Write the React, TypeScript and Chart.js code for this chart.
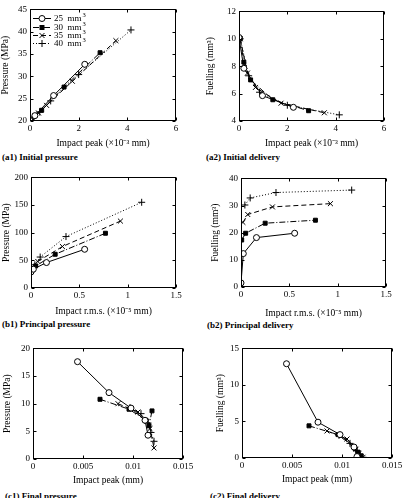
import React, { useEffect, useRef } from "react";
import { Chart, registerables } from "chart.js";

Chart.register(...registerables);

const SERIF = "'Liberation Serif', 'Times New Roman', serif";

// Fuel quantity of each series (mm³)
const seriesLabels = ["25", "30", "35", "40"];

// (a) Initial stage — impact peak (×10⁻³ mm)
const initPeak25 = [0, 0.2, 0.97, 2.25];
const initPeak30 = [0.05, 0.2, 0.48, 1.4, 2.88];
const initPeak35 = [0.05, 0.35, 0.68, 1.74, 3.53];
const initPeak40 = [0.05, 0.4, 0.85, 2.0, 4.15];
// initial pressure (MPa)
const initPres25 = [20.1, 21.2, 25.7, 32.7];
const initPres30 = [20.2, 21.2, 22.4, 27.6, 35.3];
const initPres35 = [20.2, 21.8, 23.5, 28.9, 38.0];
const initPres40 = [20.3, 22.0, 24.5, 30.4, 40.4];
// initial delivery (mm³)
const initFuel25 = [10.1, 7.85, 5.85, 5.0];
const initFuel30 = [10.0, 8.3, 7.0, 5.55, 4.75];
const initFuel35 = [10.0, 7.5, 6.45, 5.3, 4.6];
const initFuel40 = [10.0, 7.3, 6.1, 5.15, 4.45];

// (b) Principal stage — impact r.m.s. (×10⁻⁵ mm)
const prinRms25 = [0, 0.024, 0.16, 0.555];
const prinRms30 = [0.007, 0.048, 0.25, 0.77];
const prinRms35 = [0.02, 0.07, 0.325, 0.925];
const prinRms40 = [0.04, 0.095, 0.362, 1.145];
// principal pressure (MPa)
const prinPres25 = [29, 34, 46, 70];
const prinPres30 = [31, 40, 61, 99];
const prinPres35 = [36, 48, 75, 121];
const prinPres40 = [42, 56, 93, 155];
// principal delivery (mm³)
const prinFuel25 = [1.5, 12.3, 18.2, 19.8];
const prinFuel30 = [17.3, 19.8, 23.5, 24.6];
const prinFuel35 = [23.8, 26.7, 29.5, 30.7];
const prinFuel40 = [30.2, 32.8, 34.8, 35.7];

// (c) Final stage — impact peak (mm)
const finPeak25 = [0.00445, 0.0076, 0.0098, 0.0112, 0.0115];
const finPeak30 = [0.0067, 0.0096, 0.0113, 0.0116, 0.0119];
const finPeak35 = [0.0085, 0.0105, 0.0114, 0.0117, 0.0121];
const finPeak40 = [0.0097, 0.0108, 0.0115, 0.0118, 0.0121];
// final pressure (MPa)
const finPres25 = [17.6, 12.0, 9.2, 7.0, 4.3];
const finPres30 = [10.8, 9.0, 7.0, 6.0, 8.7];
const finPres35 = [10.0, 8.5, 6.8, 5.5, 2.0];
const finPres40 = [9.3, 8.2, 6.5, 4.8, 3.2];
// final delivery (mm³)
const finFuel25 = [12.9, 4.9, 3.2, 1.5, 0.2];
const finFuel30 = [4.4, 3.2, 1.3, 0.8, 0.3];
const finFuel35 = [3.7, 2.6, 1.2, 0.6, 0.1];
const finFuel40 = [3.1, 2.0, 1.0, 0.5, 0.1];

// Tick values
const initPeakTicks = [0, 2, 4, 6];
const initPresTicks = [20, 25, 30, 35, 40, 45];
const initFuelTicks = [4, 6, 8, 10, 12];
const prinRmsTicks = [0, 0.5, 1, 1.5];
const prinPresTicks = [0, 50, 100, 150, 200];
const prinFuelTicks = [0, 10, 20, 30, 40];
const finPeakTicks = [0, 0.005, 0.01, 0.015];
const finPresTicks = [0, 5, 10, 15, 20];
const finFuelTicks = [0, 5, 10, 15];

// Marker / line style of each series
const STYLES = [
  { pointStyle: "circle", radius: 3, fill: "#ffffff", dash: [] as number[] },
  { pointStyle: "rect", radius: 2.8, fill: "#000000", dash: [6, 2, 1, 2] },
  { pointStyle: "crossRot", radius: 3.5, fill: "#000000", dash: [5, 3] },
  { pointStyle: "cross", radius: 3.5, fill: "#000000", dash: [1, 2] },
];

type Series = { x: number[]; y: number[] };

type PanelProps = {
  box: [number, number, number, number]; // plot frame on the page: left, top, right, bottom
  yTitleX: number; // centre of rotated y title
  xTitleY: number; // centre of x title
  xTicks: number[];
  yTicks: number[];
  xTitle: string;
  yTitle: string;
  series: Series[];
  legend?: boolean;
};

const TICK_FONT = { family: SERIF, size: 9 };
const TITLE_FONT = { family: SERIF, size: 9.5 };

// Small marker glyph for the legend sample
function drawMarker(ctx: CanvasRenderingContext2D, style: string, r: number, fill: string, x: number, y: number) {
  ctx.beginPath();
  if (style === "circle") {
    ctx.arc(x, y, r, 0, Math.PI * 2);
    ctx.fillStyle = fill;
    ctx.fill();
    ctx.stroke();
  } else if (style === "rect") {
    const s = r * Math.SQRT1_2 * 2;
    ctx.fillStyle = fill;
    ctx.fillRect(x - s / 2, y - s / 2, s, s);
    ctx.strokeRect(x - s / 2, y - s / 2, s, s);
  } else if (style === "crossRot") {
    const d = r * Math.SQRT1_2;
    ctx.moveTo(x - d, y - d);
    ctx.lineTo(x + d, y + d);
    ctx.moveTo(x - d, y + d);
    ctx.lineTo(x + d, y - d);
    ctx.stroke();
  } else {
    ctx.moveTo(x - r, y);
    ctx.lineTo(x + r, y);
    ctx.moveTo(x, y - r);
    ctx.lineTo(x, y + r);
    ctx.stroke();
  }
}

// Frame around the plot with inward tick marks on all four sides
const framePlugin = {
  id: "frame",
  afterDatasetsDraw(chart: any) {
    const { ctx, chartArea } = chart;
    const { left, top, right, bottom } = chartArea;
    const xs = chart.scales.x;
    const ys = chart.scales.y;
    ctx.save();
    ctx.strokeStyle = "#000";
    ctx.lineWidth = 1;
    ctx.setLineDash([]);
    const L = Math.round(left) + 0.5;
    const T = Math.round(top) + 0.5;
    const R = Math.round(right) - 0.5;
    const B = Math.round(bottom) - 0.5;
    ctx.strokeRect(L, T, R - L, B - T);
    ctx.beginPath();
    const len = 3;
    xs.ticks.forEach((t: any) => {
      const p = Math.round(xs.getPixelForValue(t.value)) + 0.5;
      ctx.moveTo(p, B);
      ctx.lineTo(p, B - len);
      ctx.moveTo(p, T);
      ctx.lineTo(p, T + len);
    });
    ys.ticks.forEach((t: any) => {
      const p = Math.round(ys.getPixelForValue(t.value)) + 0.5;
      ctx.moveTo(L, p);
      ctx.lineTo(L + len, p);
      ctx.moveTo(R, p);
      ctx.lineTo(R - len, p);
    });
    ctx.stroke();
    ctx.restore();
  },
};

// Legend drawn inside the top-left corner of the plot: line sample with marker, then label
const insideLegendPlugin = {
  id: "insideLegend",
  afterDraw(chart: any) {
    const opts = chart.options.plugins.insideLegend;
    if (!opts || !opts.show) return;
    const { ctx, chartArea } = chart;
    const x0 = chartArea.left + 3;
    const y0 = chartArea.top + 9;
    const rowH = 8.3;
    ctx.save();
    chart.data.datasets.forEach((ds: any, i: number) => {
      const y = Math.round(y0 + i * rowH) + 0.5;
      const st = STYLES[i];
      ctx.strokeStyle = "#000";
      ctx.lineWidth = 1;
      ctx.setLineDash(st.dash);
      ctx.beginPath();
      ctx.moveTo(x0, y);
      ctx.lineTo(x0 + 18, y);
      ctx.stroke();
      ctx.setLineDash([]);
      drawMarker(ctx, st.pointStyle, st.radius, st.fill, x0 + 9, y);
      ctx.fillStyle = "#000";
      ctx.font = `9px ${SERIF}`;
      ctx.textBaseline = "middle";
      ctx.textAlign = "left";
      const label = `${ds.label}  mm`;
      ctx.fillText(label, x0 + 21, y + 0.5);
      const w = ctx.measureText(label).width;
      ctx.font = `6.5px ${SERIF}`;
      ctx.fillText("3", x0 + 22 + w, y - 3);
    });
    ctx.restore();
  },
};

function Panel(props: PanelProps) {
  const ref = useRef<HTMLCanvasElement | null>(null);
  const [l, t, r, b] = props.box;
  const cLeft = Math.round(props.yTitleX - 5.5);
  const cTop = t - 7;
  const padRight = 14;
  const cRight = r + padRight;
  const cBottom = Math.round(props.xTitleY + 5.5);
  const width = cRight - cLeft;
  const height = cBottom - cTop;
  const yw = l - cLeft;
  const xh = cBottom - b;

  useEffect(() => {
    if (!ref.current) return;
    const datasets = props.series.map((s, i) => {
      const st = STYLES[i];
      return {
        label: seriesLabels[i],
        data: s.x.map((xv, k) => ({ x: xv, y: s.y[k] })),
        showLine: true,
        borderColor: "#000",
        borderWidth: 1,
        borderDash: st.dash,
        backgroundColor: st.fill,
        pointStyle: st.pointStyle,
        pointRadius: st.radius,
        pointBorderColor: "#000",
        pointBackgroundColor: st.fill,
        pointBorderWidth: 1,
        tension: 0,
      };
    });
    const xMin = props.xTicks[0];
    const xMax = props.xTicks[props.xTicks.length - 1];
    const yMin = props.yTicks[0];
    const yMax = props.yTicks[props.yTicks.length - 1];
    const chart = new Chart(ref.current, {
      type: "scatter",
      data: { datasets } as any,
      plugins: [framePlugin, insideLegendPlugin],
      options: {
        animation: false,
        responsive: false,
        events: [],
        layout: { padding: { top: 7, right: padRight, left: 0, bottom: 0 } },
        plugins: {
          legend: { display: false },
          tooltip: { enabled: false },
          insideLegend: { show: !!props.legend },
        } as any,
        scales: {
          x: {
            type: "linear",
            min: xMin,
            max: xMax,
            afterBuildTicks: (s: any) => {
              s.ticks = props.xTicks.map((v) => ({ value: v }));
            },
            afterFit: (s: any) => {
              s.height = xh;
            },
            grid: { display: false, drawTicks: false },
            border: { display: false },
            ticks: {
              font: TICK_FONT,
              color: "#000",
              padding: 2,
              maxRotation: 0,
              autoSkip: false,
              callback: (v: any) => String(v),
            },
            title: { display: true, text: props.xTitle, font: TITLE_FONT, color: "#000", padding: 0 },
          },
          y: {
            type: "linear",
            min: yMin,
            max: yMax,
            afterBuildTicks: (s: any) => {
              s.ticks = props.yTicks.map((v) => ({ value: v }));
            },
            afterFit: (s: any) => {
              s.width = yw;
            },
            grid: { display: false, drawTicks: false },
            border: { display: false },
            ticks: {
              font: TICK_FONT,
              color: "#000",
              padding: 3,
              autoSkip: false,
              callback: (v: any) => String(v),
            },
            title: { display: true, text: props.yTitle, font: TITLE_FONT, color: "#000", padding: 0 },
          },
        },
      } as any,
    });
    return () => chart.destroy();
  }, []);

  return (
    <canvas
      ref={ref}
      width={width}
      height={height}
      style={{ position: "absolute", left: cLeft, top: cTop, width, height }}
    />
  );
}

const captionStyle = (left: number, centerY: number): React.CSSProperties => ({
  position: "absolute",
  left,
  top: centerY - 5,
  fontFamily: SERIF,
  fontWeight: "bold",
  fontSize: 9,
  lineHeight: "10px",
  whiteSpace: "nowrap",
  color: "#000",
});

export default function App() {
  return (
    <div
      style={{
        position: "absolute",
        left: 0,
        top: 0,
        width: 409,
        height: 498,
        overflow: "hidden",
        background: "#fff",
      }}
    >
      <Panel
        box={[30, 8, 176, 121]}
        yTitleX={5}
        xTitleY={143}
        xTicks={initPeakTicks}
        yTicks={initPresTicks}
        xTitle="Impact peak (×10⁻³ mm)"
        yTitle="Pressure (MPa)"
        legend
        series={[
          { x: initPeak25, y: initPres25 },
          { x: initPeak30, y: initPres30 },
          { x: initPeak35, y: initPres35 },
          { x: initPeak40, y: initPres40 },
        ]}
      />
      <Panel
        box={[239, 10, 384, 121]}
        yTitleX={210}
        xTitleY={143}
        xTicks={initPeakTicks}
        yTicks={initFuelTicks}
        xTitle="Impact peak (×10⁻³ mm)"
        yTitle="Fuelling (mm³)"
        series={[
          { x: initPeak25, y: initFuel25 },
          { x: initPeak30, y: initFuel30 },
          { x: initPeak35, y: initFuel35 },
          { x: initPeak40, y: initFuel40 },
        ]}
      />
      <Panel
        box={[31, 176, 176, 288]}
        yTitleX={6}
        xTitleY={311}
        xTicks={prinRmsTicks}
        yTicks={prinPresTicks}
        xTitle="Impact r.m.s. (×10⁻⁵ mm)"
        yTitle="Pressure (MPa)"
        series={[
          { x: prinRms25, y: prinPres25 },
          { x: prinRms30, y: prinPres30 },
          { x: prinRms35, y: prinPres35 },
          { x: prinRms40, y: prinPres40 },
        ]}
      />
      <Panel
        box={[241, 177, 386, 287]}
        yTitleX={215}
        xTitleY={313}
        xTicks={prinRmsTicks}
        yTicks={prinFuelTicks}
        xTitle="Impact r.m.s. (×10⁻⁵ mm)"
        yTitle="Fuelling (mm³)"
        series={[
          { x: prinRms25, y: prinFuel25 },
          { x: prinRms30, y: prinFuel30 },
          { x: prinRms35, y: prinFuel35 },
          { x: prinRms40, y: prinFuel40 },
        ]}
      />
      <Panel
        box={[33, 347, 183, 459]}
        yTitleX={7}
        xTitleY={480}
        xTicks={finPeakTicks}
        yTicks={finPresTicks}
        xTitle="Impact peak (mm)"
        yTitle="Pressure (MPa)"
        series={[
          { x: finPeak25, y: finPres25 },
          { x: finPeak30, y: finPres30 },
          { x: finPeak35, y: finPres35 },
          { x: finPeak40, y: finPres40 },
        ]}
      />
      <Panel
        box={[242, 347, 392, 458]}
        yTitleX={220}
        xTitleY={479}
        xTicks={finPeakTicks}
        yTicks={finFuelTicks}
        xTitle="Impact peak (mm)"
        yTitle="Fuelling (mm³)"
        series={[
          { x: finPeak25, y: finFuel25 },
          { x: finPeak30, y: finFuel30 },
          { x: finPeak35, y: finFuel35 },
          { x: finPeak40, y: finFuel40 },
        ]}
      />
      <div style={captionStyle(2, 157)}>(a1) Initial pressure</div>
      <div style={captionStyle(206, 157)}>(a2) Initial delivery</div>
      <div style={captionStyle(2, 324)}>(b1) Principal pressure</div>
      <div style={captionStyle(207, 325)}>(b2) Principal delivery</div>
      <div style={captionStyle(5, 496)}>(c1) Final pressure</div>
      <div style={captionStyle(210, 496)}>(c2) Final delivery</div>
    </div>
  );
}
